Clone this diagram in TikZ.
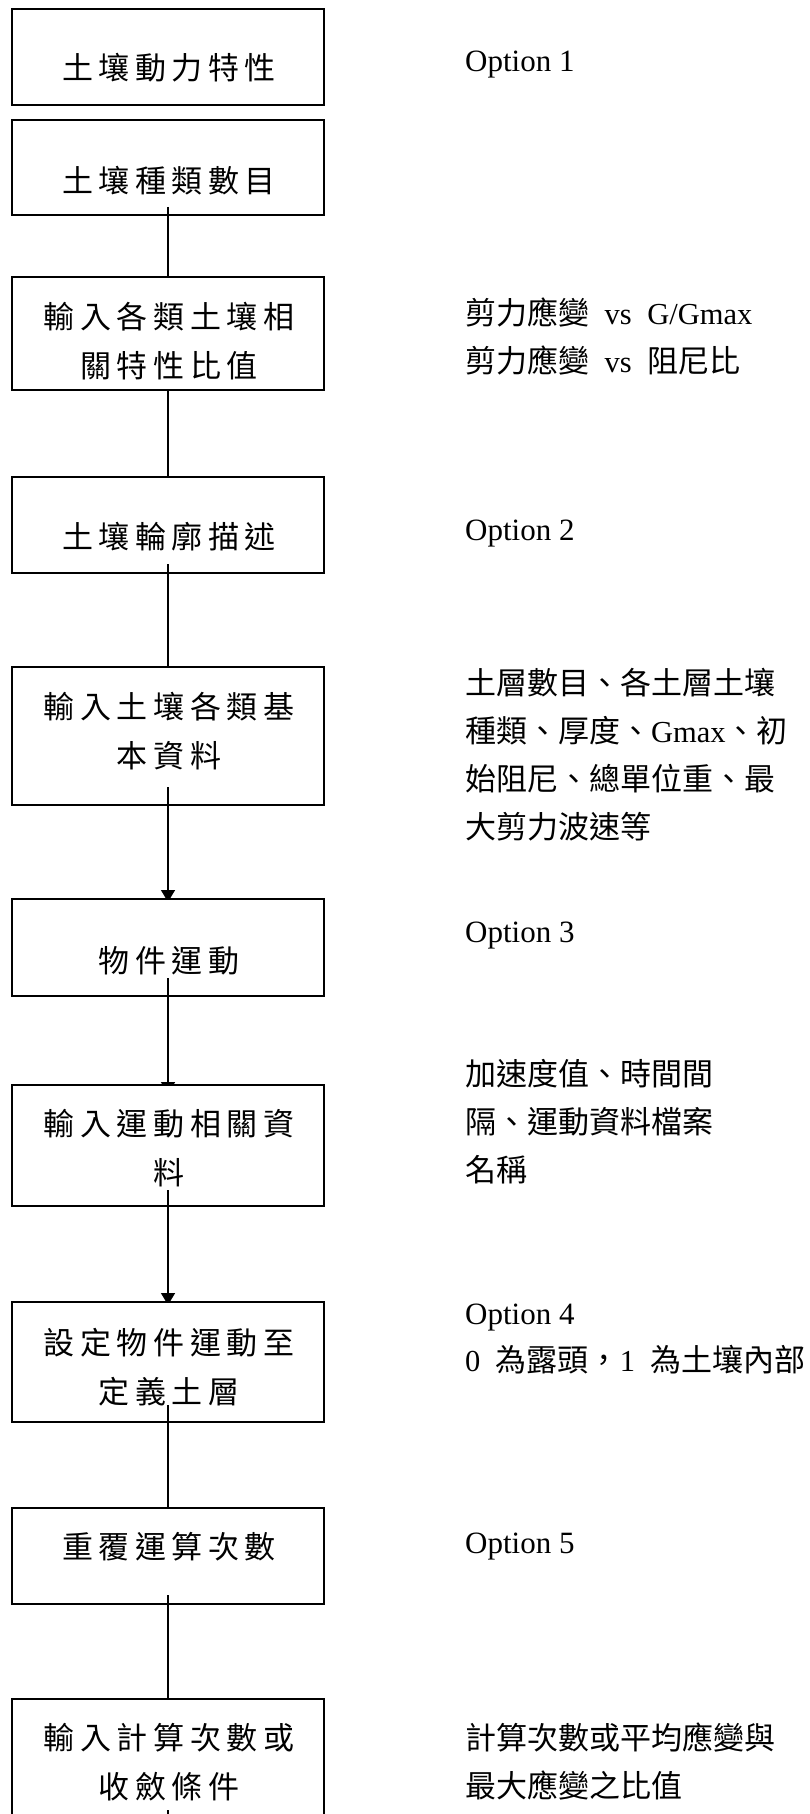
\documentclass[tikz,border=0pt]{standalone}
\usepackage{fontspec}
\usetikzlibrary{arrows.meta,calc}
\newfontfamily\cjkbox[LetterSpace=18]{Noto Sans CJK TC}
\newfontfamily\cjk{Noto Sans CJK TC}
\newfontfamily\latserif{Liberation Serif}
\newcommand{\hw}[1]{{\latserif\fontsize{30.5}{30.5}\selectfont #1}}
\newcommand{\hsp}{\hspace*{15.5pt}}
\begin{document}
\begin{tikzpicture}[x=1pt,y=-1pt,
  boxshape/.style={draw=none,minimum width=312pt,inner sep=0pt,outer sep=0pt},
  boxline/.style={draw=black,line width=2pt,fill=white},
  boxtext/.style={font=\cjkbox\fontsize{31}{49}\selectfont,align=center,inner sep=0pt},
  sidetext/.style={font=\cjk\fontsize{31}{48}\selectfont,align=left,anchor=west,inner sep=0pt},
  opttext/.style={font=\latserif\fontsize{31}{38}\selectfont,anchor=base west,inner sep=0pt},
  conn/.style={line width=1.5pt},
  arr/.style={line width=1.5pt,-{Triangle[length=12pt,width=14pt]}}
]
\useasboundingbox (0,0) rectangle (809,1814);
\clip (0,0) rectangle (809,1814);
\fill[white] (0,0) rectangle (809,1814);

% box geometry (anchors only)
\path node[boxshape,minimum height=96pt]  (b1)  at (168,57) {};
\path node[boxshape,minimum height=95pt]  (b2)  at (168,167.5) {};
\path node[boxshape,minimum height=113pt] (b3)  at (168,333.5) {};
\path node[boxshape,minimum height=96pt]  (b4)  at (168,525) {};
\path node[boxshape,minimum height=138pt] (b5)  at (168,736) {};
\path node[boxshape,minimum height=97pt]  (b6)  at (168,947.5) {};
\path node[boxshape,minimum height=121pt] (b7)  at (168,1145.5) {};
\path node[boxshape,minimum height=120pt] (b8)  at (168,1362) {};
\path node[boxshape,minimum height=96pt]  (b9)  at (168,1556) {};
\path node[boxshape,minimum height=141pt] (b10) at (168,1769.5) {};
\coordinate (b10out) at (168,1840);

% boxes, texts and connectors in stacking order
\draw[boxline] (b1.north west) rectangle (b1.south east);
\node[boxtext] (t1) at (169,67.5) {土壤動力特性};

\draw[boxline] (b2.north west) rectangle (b2.south east);
\node[boxtext] (t2) at (169,181) {土壤種類數目};
\draw[conn] ($(b2.south)+(0,-8)$) -- (b3.north);

\draw[boxline] (b3.north west) rectangle (b3.south east);
\node[boxtext] (t3) at (169,341.5) {輸入各類土壤相\\關特性比值};
\draw[conn] (b3.south) -- (b4.north);

\draw[boxline] (b4.north west) rectangle (b4.south east);
\node[boxtext] (t4) at (169,537) {土壤輪廓描述};
\draw[conn] ($(b4.south)+(0,-9)$) -- (b5.north);

\draw[boxline] (b5.north west) rectangle (b5.south east);
\node[boxtext] (t5) at (169,731) {輸入土壤各類基\\本資料};
\draw[arr] ($(b5.south)+(0,-18)$) -- ($(b6.north)+(0,3)$);

\draw[boxline] (b6.north west) rectangle (b6.south east);
\node[boxtext] (t6) at (169,961) {物件運動};
\draw[arr] ($(b6.south)+(0,-18)$) -- ($(b7.north)+(0,9)$);

\draw[boxline] (b7.north west) rectangle (b7.south east);
\node[boxtext] (t7) at (169,1148) {輸入運動相關資\\料};
\draw[arr] ($(b7.south)+(0,-16)$) -- ($(b8.north)+(0,3)$);

\draw[boxline] (b8.north west) rectangle (b8.south east);
\node[boxtext] (t8) at (169,1367) {設定物件運動至\\定義土層};
\draw[conn] ($(b8.south)+(0,-17)$) -- (b9.north);

\draw[boxline] (b9.north west) rectangle (b9.south east);
\node[boxtext] (t9) at (169,1547) {重覆運算次數};
\draw[conn] ($(b9.south)+(0,-9)$) -- (b10.north);

\draw[boxline] (b10.north west) rectangle (b10.south east);
\node[boxtext] (t10) at (169,1762.5) {輸入計算次數或\\收斂條件};
\draw[conn] ($(b10.north)+(0,111)$) -- (b10out);

% side notes
\node[opttext] (o1) at (465,72) {Option 1};
\node[sidetext] (s3) at (465,336.5) {剪力應變\hsp\hw{vs}\hsp\hw{G/Gmax}\\剪力應變\hsp\hw{vs}\hsp 阻尼比};
\node[opttext] (o2) at (465,540) {Option 2};
\node[sidetext] (s5) at (465,754.3) {土層數目、各土層土壤\\種類、厚度、\hw{Gmax}、初\\始阻尼、總單位重、最\\大剪力波速等};
\node[opttext] (o3) at (465,942) {Option 3};
\node[sidetext] (s7) at (465,1121.7) {加速度值、時間間\\隔、運動資料檔案\\名稱};
\node[opttext] (o4) at (465,1324) {Option 4};
\node[sidetext] (s8) at (465,1360) {\hw{0}\hsp 為露頭，\hw{1}\hsp 為土壤內部};
\node[opttext] (o5) at (465,1553) {Option 5};
\node[sidetext] (s10) at (465,1761) {計算次數或平均應變與\\最大應變之比值};
\end{tikzpicture}
\end{document}
